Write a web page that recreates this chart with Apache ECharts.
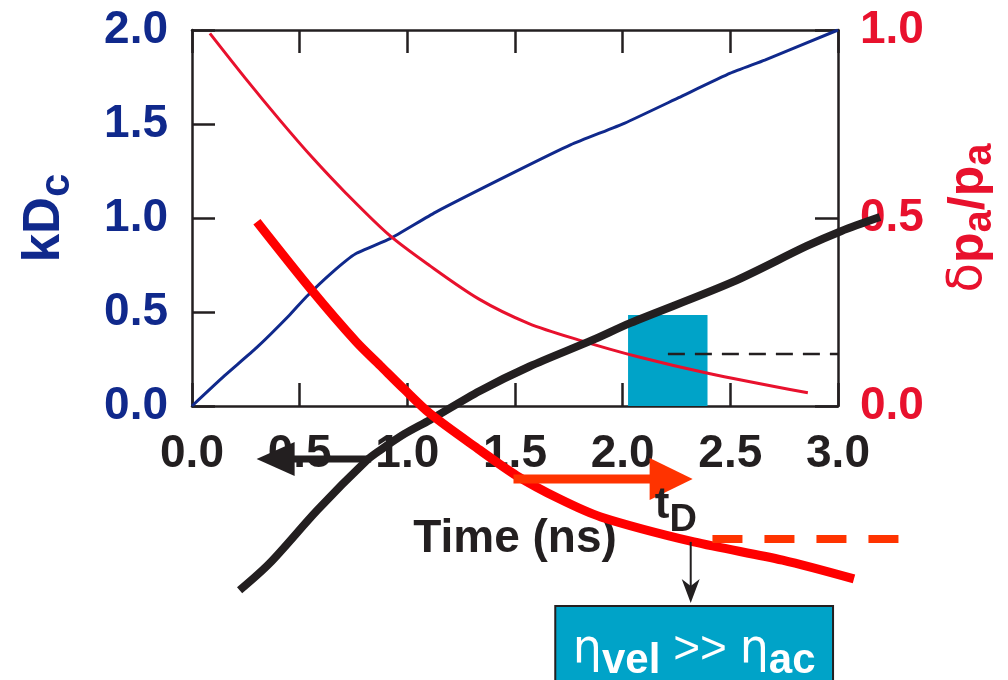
<!DOCTYPE html>
<html><head><meta charset="utf-8">
<script src="https://cdn.jsdelivr.net/npm/echarts@6/dist/echarts.min.js"></script>
<style>html,body{margin:0;padding:0;background:#fff}#c{width:1008px;height:680px}</style>
</head><body><div id="c"></div>
<script>
// ---- data (time in ns) ----
const xTicks = ['0.0','0.5','1.0','1.5','2.0','2.5','3.0'];
const yTicksLeft = ['0.0','0.5','1.0','1.5','2.0'];
const yTicksRight = ['0.0','0.5','1.0'];
// kD_c (left axis)
const kdcCurve = [[0,0],[0.15,0.16],[0.3,0.31],[0.45,0.48],[0.53,0.58],[0.65,0.71],[0.76,0.81],[0.92,0.89],[1.13,1.03],[1.5,1.245],[1.76,1.39],[2.01,1.505],[2.26,1.64],[2.5,1.77],[2.66,1.84],[3.0,2.0]];
// δp_a/p_a (right axis)
const pressureCurve = [[0.083,0.991],[0.25,0.87],[0.407,0.761],[0.56,0.66],[0.715,0.566],[0.915,0.455],[1.1,0.375],[1.331,0.285],[1.562,0.22],[1.794,0.176],[2.071,0.131],[2.39,0.088],[2.86,0.035]];
// overlaid thick curves (left-axis units, extend beyond frame)
const thickRedCurve = [[0.3,0.98],[0.55,0.62],[0.76,0.34],[0.87,0.215],[0.98,0.09],[1.1,-0.04],[1.33,-0.234],[1.5,-0.37],[1.7,-0.495],[1.89,-0.59],[2.32,-0.723],[2.73,-0.82],[3.06,-0.92]];
const thickBlackCurve = [[0.22,-0.98],[0.36,-0.835],[0.58,-0.553],[0.81,-0.287],[0.87,-0.235],[0.98,-0.15],[1.1,-0.074],[1.33,0.08],[1.56,0.21],[1.85,0.35],[2.025,0.441],[2.5,0.66],[2.84,0.85],[3.0,0.93],[3.18,1.005]];
// highlighted window and threshold
const windowBox = [[2.025,0],[2.394,0.484]];
const dashedLevel = [[2.21,0.277],[3.0,0.277]];
// annotations (left-axis data units)
const leftArrow = [[0.832,-0.282],[0.300,-0.282]];
const rightArrow = [[1.493,-0.388],[2.325,-0.388]];
const tDLabel = [2.149,-0.617];
const redDashed = [[2.417,-0.707],[3.287,-0.707]];
const downArrow = [[2.316,-0.723],[2.316,-1.048]];
const etaBox = [[1.687,-1.064],[2.977,-1.6]];
const etaText = ['η','vel',' >> ','η','ac'];

const chart = echarts.init(document.getElementById('c'));
const FONT = '"Liberation Sans", Arial, Helvetica, sans-serif';
const INK = '#231f20', NAVY = '#10298c', RED = '#e8112d';
const axisLine = {show:true, onZero:false, lineStyle:{color:INK, width:2.5}};
const axisTick = {show:true, inside:true, length:23, lineStyle:{color:INK, width:2.5}};
const lbl = (color, arr, margin) => ({fontSize:46, fontWeight:'bold', color, fontFamily:FONT, margin,
  showMinLabel:true, showMaxLabel:true, formatter:v => arr[Math.round(v/0.5)]});

// main frame: x 0..3 over 649px; overlay grid has the same scale but runs to x = 3.3
const GL = 192, GW = 649, XMAX2 = 3.3;
chart.setOption({
  animation:false,
  grid:[{left:GL, width:GW, top:30, bottom:274},
        {left:GL, width:GW*XMAX2/3, top:30, bottom:274, show:false}],
  xAxis:[
    {type:'value', gridIndex:0, min:0, max:3, interval:0.5, position:'bottom', axisLine, axisTick,
     splitLine:{show:false}, axisLabel:lbl(INK, xTicks, 25),
     name:'Time (ns)', nameLocation:'middle', nameGap:110,
     nameTextStyle:{fontSize:46, fontWeight:'bold', color:INK, fontFamily:FONT}},
    {type:'value', gridIndex:0, min:0, max:3, interval:0.5, position:'top', axisLine, axisTick,
     splitLine:{show:false}, axisLabel:{show:false}},
    {type:'value', gridIndex:1, min:0, max:XMAX2, show:false}
  ],
  yAxis:[
    {type:'value', gridIndex:0, min:0, max:2, interval:0.5, position:'left', axisLine, axisTick,
     splitLine:{show:false}, axisLabel:lbl(NAVY, yTicksLeft, 24),
     name:'{a|kD}{b|c}', nameLocation:'middle', nameRotate:90, nameGap:114,
     nameTextStyle:{rich:{
       a:{fontSize:51, fontWeight:'bold', color:NAVY, fontFamily:FONT},
       b:{fontSize:42, fontWeight:'bold', color:NAVY, fontFamily:FONT, padding:[24,0,0,0]}}}},
    {type:'value', gridIndex:0, min:0, max:1, interval:0.5, position:'right', axisLine, axisTick,
     splitLine:{show:false}, axisLabel:lbl(RED, yTicksRight, 22),
     name:'{d|δ}{a|p}{b|a}{a|/p}{b|a}', nameLocation:'middle', nameRotate:90, nameGap:100,
     nameTextStyle:{rich:{
       d:{fontSize:48, color:RED, fontFamily:'"DejaVu Sans", sans-serif'},
       a:{fontSize:50, fontWeight:'bold', color:RED, fontFamily:FONT},
       b:{fontSize:40, fontWeight:'bold', color:RED, fontFamily:FONT, padding:[22,0,0,0]}}}},
    {type:'value', gridIndex:1, min:0, max:2, show:false}
  ],
  series:[
    {type:'line', data:[], z:1, markArea:{silent:true, itemStyle:{color:'#00a3c8', opacity:1},
      data:[[{coord:windowBox[0]},{coord:windowBox[1]}]]}},
    {type:'line', data:dashedLevel, symbol:'none', z:2, lineStyle:{color:INK, width:2.5, type:[17,10]}},
    {type:'line', data:kdcCurve, symbol:'none', z:3, smooth:0.15, lineStyle:{color:NAVY, width:3}},
    {type:'line', yAxisIndex:1, data:pressureCurve, symbol:'none', z:4, smooth:0.3, lineStyle:{color:RED, width:3}},
    {type:'line', xAxisIndex:2, yAxisIndex:2, data:thickBlackCurve, symbol:'none', z:5, clip:false, smooth:0.3, lineStyle:{color:INK, width:8}},
    {type:'line', xAxisIndex:2, yAxisIndex:2, data:thickRedCurve, symbol:'none', z:6, clip:false, smooth:0.3, lineStyle:{color:'#ff0000', width:9}}
  ]
});

const P = p => chart.convertToPixel({xAxisIndex:0, yAxisIndex:0}, p);
const g = [];
const ORANGE = '#ff3300';
// left black arrow
{ const a = P(leftArrow[0]), b = P(leftArrow[1]);
  g.push({type:'line', z:100, shape:{x1:a[0], y1:a[1], x2:b[0]+32, y2:b[1]}, style:{stroke:INK, lineWidth:7}});
  g.push({type:'polygon', z:100, shape:{points:[[b[0],b[1]],[b[0]+38,b[1]-17],[b[0]+38,b[1]+17]]}, style:{fill:INK}}); }
// right orange arrow
{ const a = P(rightArrow[0]), b = P(rightArrow[1]);
  g.push({type:'line', z:100, shape:{x1:a[0], y1:a[1], x2:b[0]-38, y2:b[1]}, style:{stroke:ORANGE, lineWidth:9}});
  g.push({type:'polygon', z:100, shape:{points:[[b[0],b[1]],[b[0]-43,b[1]-21],[b[0]-43,b[1]+21]]}, style:{fill:ORANGE}}); }
// t_D
{ const p = P(tDLabel);
  g.push({type:'text', z:100, style:{text:'{t|t}{d|D}', x:p[0], y:p[1]+18, align:'left', verticalAlign:'bottom',
    rich:{t:{fontSize:44, fontWeight:'bold', fill:INK, fontFamily:FONT},
          d:{fontSize:38, fontWeight:'bold', fill:INK, fontFamily:FONT, padding:[30,0,0,0]}}}}); }
// red dashed
{ const a = P(redDashed[0]), b = P(redDashed[1]);
  g.push({type:'line', z:100, shape:{x1:a[0], y1:a[1], x2:b[0], y2:b[1]}, style:{stroke:ORANGE, lineWidth:8, lineDash:[30,22]}}); }
// thin down arrow
{ const a = P(downArrow[0]), b = P(downArrow[1]);
  g.push({type:'line', z:100, shape:{x1:a[0], y1:a[1], x2:b[0], y2:b[1]-10}, style:{stroke:INK, lineWidth:2}});
  g.push({type:'polygon', z:100, shape:{points:[[b[0],b[1]],[b[0]-9,b[1]-24],[b[0],b[1]-17],[b[0]+9,b[1]-24]]}, style:{fill:INK}}); }
// eta box
{ const a = P(etaBox[0]), b = P(etaBox[1]);
  g.push({type:'rect', z:100, shape:{x:a[0], y:a[1], width:b[0]-a[0], height:b[1]-a[1]}, style:{fill:'#00a3c8', stroke:INK, lineWidth:2}});
  g.push({type:'text', z:101, style:{text:'{e|'+etaText[0]+'}{s|'+etaText[1]+'}{g|'+etaText[2]+'}{e|'+etaText[3]+'}{s|'+etaText[4]+'}',
    x:(a[0]+b[0])/2, y:a[1]+44, align:'center', verticalAlign:'middle',
    rich:{e:{fontSize:46, fill:'#fff', fontFamily:'"DejaVu Sans", sans-serif'},
          s:{fontSize:42, fontWeight:'bold', fill:'#fff', fontFamily:FONT, padding:[22,0,0,0]},
          g:{fontSize:46, fill:'#fff', fontFamily:FONT}}}}); }
chart.setOption({graphic:g});
</script></body></html>
